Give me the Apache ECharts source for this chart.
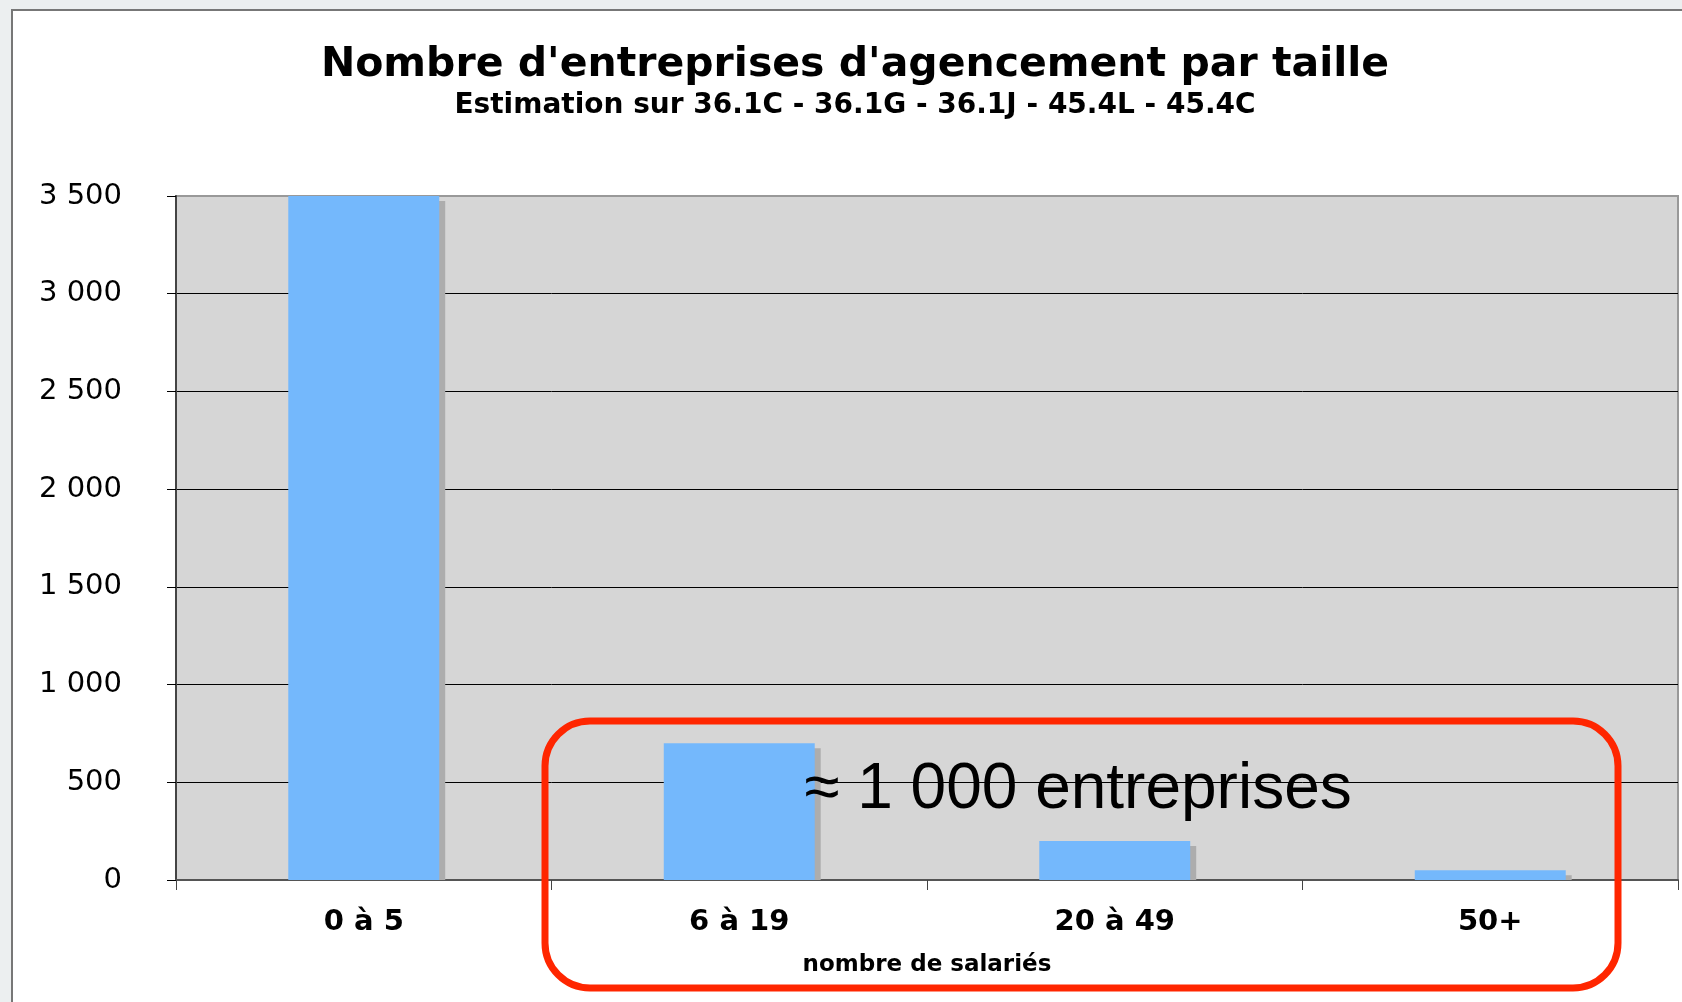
<!DOCTYPE html>
<html>
<head>
<meta charset="utf-8">
<title>Nombre d'entreprises d'agencement par taille</title>
<script src="https://cdn.jsdelivr.net/npm/echarts@6/dist/echarts.min.js"></script>
<style>
	html, body { margin: 0; padding: 0; background: #eceff0; }
	#main { width: 1682px; height: 1002px; }
</style>
</head>
<body>
<div id="main"></div>
<script>
	/* données du graphique */
	var categories = ['0 à 5', '6 à 19', '20 à 49', '50+'];
	var entreprises = [3500, 700, 200, 50];
	var yTicks = [0, 500, 1000, 1500, 2000, 2500, 3000, 3500];

	var titre = "Nombre d'entreprises d'agencement par taille";
	var sousTitre = 'Estimation sur 36.1C - 36.1G - 36.1J - 45.4L - 45.4C';
	var nomAxeX = 'nombre de salariés';
	var annotation = '≈ 1 000 entreprises';

	var myChart = echarts.init(document.getElementById('main'));

	// espace comme séparateur de milliers
	function formatNombre(v) {
		return String(v).replace(/\B(?=(\d{3})+(?!\d))/g, ' ');
	}

	var shadowData = [];
	for (var i = 0; i < entreprises.length; i++) {
		shadowData.push([i, entreprises[i]]);
	}

	var option = {
		animation: false,
		backgroundColor: '#eceff0',
		grid: {
			left: 176,
			right: 4,
			top: 196,
			bottom: 122,
			show: true,
			backgroundColor: '#d6d6d6',
			borderColor: '#999999',
			borderWidth: 2
		},
		xAxis: {
			type: 'category',
			data: categories,
			name: nomAxeX,
			nameLocation: 'middle',
			nameGap: 74,
			nameTextStyle: {
				fontFamily: 'DejaVu Sans',
				fontWeight: 'bold',
				fontSize: 23,
				color: '#000'
			},
			axisLine: { lineStyle: { color: '#555555', width: 2 } },
			axisTick: { show: true, length: 10, lineStyle: { color: '#444' } },
			axisLabel: {
				margin: 28,
				fontFamily: 'DejaVu Sans',
				fontWeight: 'bold',
				fontSize: 29,
				color: '#000'
			}
		},
		yAxis: {
			type: 'value',
			min: yTicks[0],
			max: yTicks[yTicks.length - 1],
			interval: yTicks[1] - yTicks[0],
			axisLine: { show: true, lineStyle: { color: '#444444', width: 2 } },
			axisTick: { show: true, length: 9, lineStyle: { color: '#000' } },
			axisLabel: {
				margin: 54,
				fontFamily: 'DejaVu Sans',
				fontSize: 29,
				color: '#000',
				formatter: function(v) { return formatNombre(v); }
			},
			splitLine: {
				lineStyle: {
					// la ligne du haut reste grise comme la bordure
					color: ['#000', '#000', '#000', '#000', '#000', '#000', '#000', '#999999'],
					width: 1
				}
			}
		},
		series: [
			{
				// ombre grise derrière chaque barre
				name: 'ombre',
				type: 'custom',
				z: 1,
				silent: true,
				data: shadowData,
				renderItem: function(params, api) {
					var top = api.coord([api.value(0), api.value(1)]);
					var base = api.coord([api.value(0), 0]);
					var w = api.size([1, 0])[0] * 0.402;
					return {
						type: 'rect',
						shape: {
							x: top[0] - w / 2 + 6,
							y: top[1] + 5,
							width: w,
							height: Math.max(base[1] - top[1] - 5, 0)
						},
						style: { fill: '#adadad' }
					};
				}
			},
			{
				name: 'entreprises',
				type: 'bar',
				z: 2,
				barWidth: '40.2%',
				data: entreprises,
				itemStyle: { color: '#74b8fc' }
			}
		],
		graphic: [
			{
				type: 'rect',
				left: 11,
				top: 9,
				z: -10,
				shape: { width: 1700, height: 1010 },
				style: { fill: '#ffffff', stroke: '#777777', lineWidth: 2 }
			},
			{
				type: 'text',
				x: 855,
				y: 65,
				style: {
					text: titre,
					fontFamily: 'DejaVu Sans',
					fontWeight: 'bold',
					fontSize: 41,
					fill: '#000',
					align: 'center',
					verticalAlign: 'middle'
				}
			},
			{
				type: 'text',
				x: 855,
				y: 106,
				style: {
					text: sousTitre,
					fontFamily: 'DejaVu Sans',
					fontWeight: 'bold',
					fontSize: 28,
					fill: '#000',
					align: 'center',
					verticalAlign: 'middle'
				}
			},
			{
				type: 'rect',
				z: 100,
				shape: { x: 545, y: 721, width: 1073, height: 267, r: 45 },
				style: { fill: 'none', stroke: '#ff2600', lineWidth: 7 }
			},
			{
				type: 'text',
				z: 100,
				x: 1078,
				y: 790,
				style: {
					text: annotation,
					fontFamily: 'Liberation Sans',
					fontSize: 64,
					fill: '#000',
					align: 'center',
					verticalAlign: 'middle'
				}
			}
		]
	};

	myChart.setOption(option);
	window.onresize = function(){
		myChart.resize();
	}
</script>
</body>
</html>
